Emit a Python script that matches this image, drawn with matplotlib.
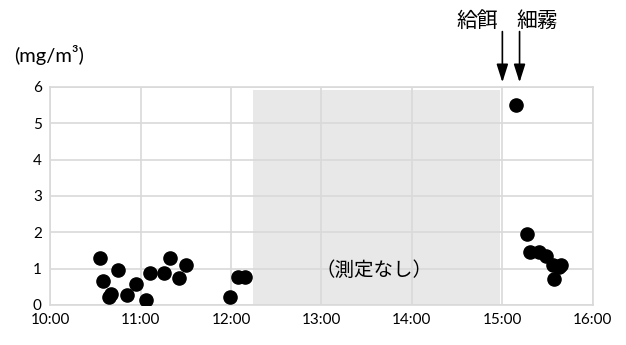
import matplotlib
matplotlib.use("Agg")
import matplotlib.pyplot as plt

plt.rcParams['font.family'] = ['Lato', 'Noto Sans CJK JP', 'DejaVu Sans']

# measurement times (hours after 10:00) and concentrations (mg/m3)
hours = [0.55, 0.58, 0.65, 0.67, 0.75, 0.85, 0.95, 1.06, 1.10, 1.26, 1.33, 1.43, 1.50,
         1.99, 2.08, 2.16,
         5.15, 5.27, 5.31, 5.40, 5.48, 5.56, 5.63, 5.65, 5.57]
conc = [1.29, 0.67, 0.23, 0.29, 0.96, 0.27, 0.57, 0.13, 0.87, 0.88, 1.29, 0.73, 1.09,
        0.23, 0.76, 0.76,
        5.50, 1.95, 1.46, 1.47, 1.35, 1.10, 1.04, 1.10, 0.72]

xticks = [0, 1, 2, 3, 4, 5, 6]
xlabels = ["10:00", "11:00", "12:00", "13:00", "14:00", "15:00", "16:00"]
yticks = [0, 1, 2, 3, 4, 5, 6]

no_data = (2.24, 4.97)       # gap without measurement
events = [("給餌", 5.0), ("細霧", 5.19)]

fig = plt.figure(figsize=(6.26, 3.45), dpi=100)
ax = fig.add_axes([0.08, 0.116, 0.867, 0.632])

ax.axvspan(no_data[0], no_data[1], ymin=0, ymax=0.985, color="#e8e8e8", zorder=0, lw=0)
ax.set_xlim(0, 6)
ax.set_ylim(0, 6)
ax.set_xticks(xticks)
ax.set_xticklabels(xlabels)
ax.set_yticks(yticks)
ax.grid(True, color="#d9d9d9", lw=1.2, zorder=1)
ax.set_axisbelow(True)
for s in ax.spines.values():
    s.set_color("#d9d9d9")
    s.set_linewidth(1.2)
ax.tick_params(length=0, labelsize=11, pad=6)

ax.scatter(hours, conc, s=90, color="black", zorder=3)

jp = ['Noto Sans CJK JP']
ax.text(3.58, 0.96, "（測定なし）", fontsize=14, ha="center", va="center", family=jp)

for label, t in events:
    ax.annotate("", xy=(t, 6.05), xytext=(t, 7.6), annotation_clip=False,
                arrowprops=dict(arrowstyle="-|>,head_width=0.35,head_length=1.1",
                                color="black", lw=1.2))
ax.text(4.72, 7.82, events[0][0], fontsize=15, ha="center", va="center",
        family=jp, clip_on=False)
ax.text(5.39, 7.82, events[1][0], fontsize=15, ha="center", va="center",
        family=jp, clip_on=False)

fig.text(0.022, 0.84, "(mg/m³)", fontsize=14.5, ha="left", va="center")

fig.savefig("out.png", dpi=100)
